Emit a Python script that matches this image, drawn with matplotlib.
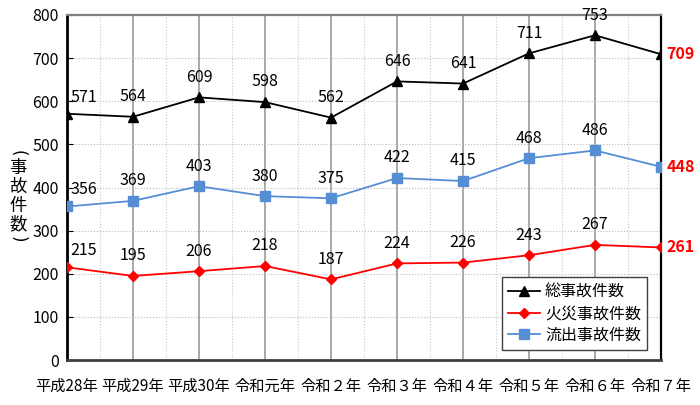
import matplotlib
matplotlib.use("Agg")
import matplotlib.pyplot as plt
import numpy as np
from matplotlib.ticker import MultipleLocator

categories = ["平成28年", "平成29年", "平成30年", "令和元年", "令和２年",
              "令和３年", "令和４年", "令和５年", "令和６年", "令和７年"]
total = [571, 564, 609, 598, 562, 646, 641, 711, 753, 709]
fire = [215, 195, 206, 218, 187, 224, 226, 243, 267, 261]
leak = [356, 369, 403, 380, 375, 422, 415, 468, 486, 448]
series_names = ["総事故件数", "火災事故件数", "流出事故件数"]
ylabel_chars = ["(", "事", "故", "件", "数", ")"]

FAM = ["Liberation Sans Narrow", "Noto Sans CJK JP", "DejaVu Sans"]
plt.rcParams["font.family"] = FAM

fig = plt.figure(figsize=(7.0, 4.05), dpi=100)
ax = fig.add_axes([0.0957, 0.111, 0.8486, 0.852])

x = np.arange(len(categories))
BLUE = "#558ED5"
ax.plot(x, total, color="black", lw=1.3, marker="^", ms=7, label=series_names[0], zorder=5)
ax.plot(x, fire, color="#FF0000", lw=1.3, marker="D", ms=5, label=series_names[1], zorder=5)
ax.plot(x, leak, color=BLUE, lw=1.3, marker="s", ms=7, label=series_names[2], zorder=5)

ax.set_xlim(0, len(categories) - 1)
ax.set_ylim(0, 800)
ax.yaxis.set_major_locator(MultipleLocator(100))
ax.set_xticks(x)
ax.set_xticklabels(categories, fontsize=11)
ax.set_xticks(x[:-1] + 0.5, minor=True)

ax.grid(axis="x", which="major", color="#999999", lw=1.2, ls="-", zorder=1)
ax.grid(axis="x", which="minor", color="#C8C8C8", lw=0.8, ls=":", zorder=1)
ax.grid(axis="y", which="major", color="#BBBBBB", lw=0.8, ls=":", zorder=1)
ax.set_axisbelow(True)

ax.tick_params(axis="x", which="both", length=0, pad=13)
ax.tick_params(axis="y", direction="in", length=4, labelsize=11.5, pad=6)

for side, c, lw in [("left", "black", 2.0), ("right", "black", 1.6),
                    ("bottom", "#404040", 2.0), ("top", "#808080", 1.6)]:
    ax.spines[side].set_color(c)
    ax.spines[side].set_linewidth(lw)

n = len(categories)
for series in (total, fire, leak):
    for i, v in enumerate(series):
        if i == n - 1:
            ax.annotate(str(v), (i, v), xytext=(4, 0), textcoords="offset points",
                        ha="left", va="center", fontsize=11.5, color="#FF0000",
                        fontweight="bold", zorder=6, annotation_clip=False)
        elif i == 0:
            ax.annotate(str(v), (i, v), xytext=(12, 12), textcoords="offset points",
                        ha="center", va="center", fontsize=11.5, color="black", zorder=6)
        else:
            ax.annotate(str(v), (i, v), xytext=(0, 14.5), textcoords="offset points",
                        ha="center", va="center", fontsize=11.5, color="black", zorder=6)

leg = ax.legend(loc="lower right", bbox_to_anchor=(0.977, 0.028), borderaxespad=0,
                fontsize=11.5, fancybox=False, framealpha=1, edgecolor="#404040",
                handlelength=2.0, handletextpad=0.3, labelspacing=0.3, borderpad=0.4)
leg.get_frame().set_linewidth(1.0)

# stacked vertical y-axis label
y_positions = [153, 168, 187, 206, 224, 239]
for ch, yp in zip(ylabel_chars, y_positions):
    if ch in "()":
        fig.text(18 / 700, 1 - yp / 405, ch, ha="center", va="center", rotation=-90,
                 rotation_mode="anchor", fontsize=12, family=["DejaVu Sans"])
    else:
        fig.text(18 / 700, 1 - yp / 405, ch, ha="center", va="center",
                 fontsize=12.5, family=["Noto Sans CJK JP", "DejaVu Sans"])

fig.savefig("out.png", dpi=100)
